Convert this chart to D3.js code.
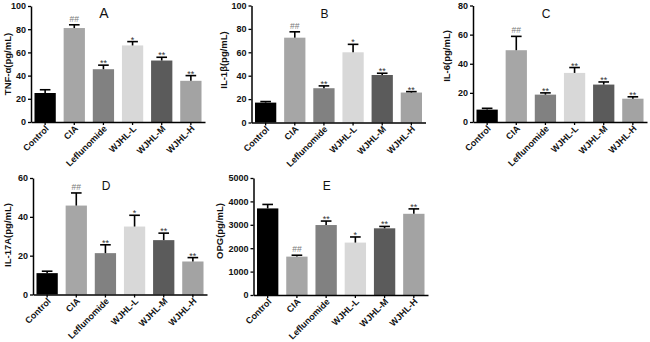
<!DOCTYPE html>
<html>
<head>
<meta charset="utf-8">
<script src="https://cdn.jsdelivr.net/npm/d3@7"></script>
<style>
  body { margin: 0; background: #fff; }
  svg { display: block; font-family: "Liberation Sans", Arial, sans-serif; }
</style>
</head>
<body>
<div id="wrapper"></div>
<script>
// groups and values
const groups = ["Control", "CIA", "Leflunomide", "WJHL-L", "WJHL-M", "WJHL-H"]
const marks = ["", "##", "**", "*", "**", "**"]
const marksC = ["", "##", "**", "**", "**", "**"]

const tnfMean = [25, 81, 45.5, 66, 53, 35.5]
const tnfErr = [2.8, 2.8, 3.5, 3.3, 2.8, 4.5]
const il1Mean = [17, 72.5, 29.3, 60, 40.6, 25.6]
const il1Err = [0.9, 5, 2, 6.8, 1.5, 0.8]
const il6Mean = [8.5, 49.3, 18.8, 33.7, 25.7, 16]
const il6Err = [0.9, 9.5, 1.2, 3.7, 1.8, 1.3]
const il17Mean = [11, 45.8, 21.3, 35, 28, 17]
const il17Err = [1, 6.5, 4.3, 5.8, 3.6, 2]
const opgMean = [3700, 1640, 2990, 2240, 2850, 3470]
const opgErr = [170, 60, 170, 240, 80, 210]

const ticks100 = [0, 20, 40, 60, 80, 100]
const ticks80 = [0, 20, 40, 60, 80]
const ticks60 = [0, 20, 40, 60]
const ticks5000 = [0, 1000, 2000, 3000, 4000, 5000]

const barColors = ["#000000", "#a6a6a6", "#818181", "#d8d8d8", "#5b5b5b", "#a3a3a3"]

const width = 650, height = 342

const svg = d3.select("#wrapper").append("svg")
    .attr("width", width).attr("height", height)

// panel layout (pixels)
const panels = [
  {letter: "A", label: "TNF-\u03b1(pg/mL)", mean: tnfMean, err: tnfErr, ticks: ticks100, marks: marks,
   x0: 31, x1: 205, y0: 122, y1: 6, labX: 7, labY: 64, fs: 14},
  {letter: "B", label: "IL-1\u03b2(pg/mL)", mean: il1Mean, err: il1Err, ticks: ticks100, marks: marks,
   x0: 251.5, x1: 425.5, y0: 122.5, y1: 5.5, labX: 223, labY: 60, fs: 12},
  {letter: "C", label: "IL-6(pg/mL)", mean: il6Mean, err: il6Err, ticks: ticks80, marks: marksC,
   x0: 473, x1: 647, y0: 122, y1: 5.5, labX: 446, labY: 56, fs: 12},
  {letter: "D", label: "IL-17A(pg/mL)", mean: il17Mean, err: il17Err, ticks: ticks60, marks: marks,
   x0: 33, x1: 207, y0: 294.5, y1: 178, labX: 7, labY: 235, fs: 12},
  {letter: "E", label: "OPG(pg/mL)", mean: opgMean, err: opgErr, ticks: ticks5000, marks: marks,
   x0: 253.5, x1: 428, y0: 295, y1: 178, labX: 219, labY: 231, fs: 12}
]

function drawPanel(p) {
  const g = svg.append("g")
  const xScale = d3.scaleBand().domain(groups).range([p.x0, p.x1])
      .paddingInner(0.27).paddingOuter(0.12)
  const yScale = d3.scaleLinear().domain([0, d3.max(p.ticks)]).range([p.y0, p.y1])
  const bw = xScale.bandwidth()
  const data = groups.map((k, i) => ({k, v: p.mean[i], e: p.err[i], m: p.marks[i], c: barColors[i]}))

  // bars
  g.selectAll("rect.bar").data(data).enter().append("rect")
      .attr("class", "bar")
      .attr("x", d => xScale(d.k)).attr("width", bw)
      .attr("y", d => yScale(d.v)).attr("height", d => yScale(0) - yScale(d.v))
      .attr("fill", d => d.c)

  // upper error bars
  const eb = g.selectAll("g.err").data(data).enter().append("g").attr("class", "err")
  eb.append("line")
      .attr("x1", d => xScale(d.k) + bw / 2).attr("x2", d => xScale(d.k) + bw / 2)
      .attr("y1", d => yScale(d.v)).attr("y2", d => yScale(d.v + d.e))
      .attr("stroke", "#000").attr("stroke-width", 1.6)
  eb.append("line")
      .attr("x1", d => xScale(d.k) + bw / 2 - bw * 0.25).attr("x2", d => xScale(d.k) + bw / 2 + bw * 0.25)
      .attr("y1", d => yScale(d.v + d.e)).attr("y2", d => yScale(d.v + d.e))
      .attr("stroke", "#000").attr("stroke-width", 1.6)

  // significance marks
  g.selectAll("text.sig").data(data.filter(d => d.m)).enter().append("text")
      .attr("class", "sig")
      .attr("x", d => xScale(d.k) + bw / 2)
      .attr("y", d => yScale(d.v + d.e) - (d.m[0] === "#" ? 3 : -1))
      .attr("text-anchor", "middle")
      .attr("font-size", d => d.m[0] === "#" ? 8.5 : 9)
      .attr("fill", d => d.m[0] === "#" ? "#7a7a7a" : "#333")
      .text(d => d.m)

  // axes
  const yAxis = g.append("g").attr("transform", `translate(${p.x0},0)`)
      .call(d3.axisLeft(yScale).tickValues(p.ticks).tickFormat(d3.format("d"))
        .tickSize(3).tickSizeOuter(0).tickPadding(2))
  const xAxis = g.append("g").attr("transform", `translate(0,${p.y0})`)
      .call(d3.axisBottom(xScale).tickSize(3).tickSizeOuter(0))
  ;[yAxis, xAxis].forEach(a => {
    a.select(".domain").attr("stroke", "#000").attr("stroke-width", 1.5)
    a.selectAll(".tick line").attr("stroke", "#000").attr("stroke-width", 1.3)
    a.selectAll("text").attr("fill", "#111").attr("font-weight", "bold")
        .attr("font-family", "Liberation Sans, Arial, sans-serif")
  })
  yAxis.selectAll("text").attr("font-size", 9)
  xAxis.selectAll("text").attr("font-size", 9)
      .attr("x", 0).attr("y", 0).attr("dy", "0.35em")
      .attr("text-anchor", "end")
      .attr("transform", "translate(2,5) rotate(-45)")

  // y title
  g.append("text")
      .attr("transform", `translate(${p.labX},${p.labY}) rotate(-90)`)
      .attr("text-anchor", "middle").attr("dominant-baseline", "central")
      .attr("font-size", 9.5).attr("font-weight", "bold").attr("fill", "#111")
      .text(p.label)

  // panel letter
  g.append("text")
      .attr("x", (p.x0 + p.x1) / 2 - 14).attr("y", p.y1 + 12)
      .attr("text-anchor", "middle")
      .attr("font-size", p.fs).attr("fill", "#111")
      .text(p.letter)
}

panels.forEach(drawPanel)
</script>
</body>
</html>
